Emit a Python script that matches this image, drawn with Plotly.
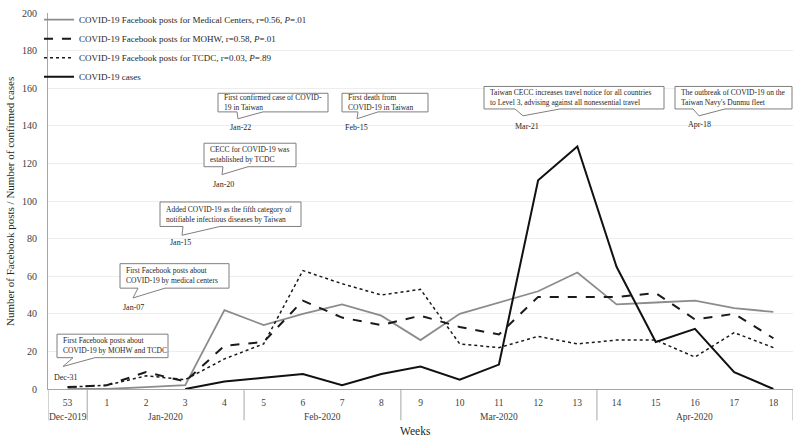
import plotly.graph_objects as go

# ---------------- data ----------------
weeks = ["53", "1", "2", "3", "4", "5", "6", "7", "8", "9", "10", "11", "12", "13", "14", "15", "16", "17", "18"]
months = ["Dec-2019", "Jan-2020", "Jan-2020", "Jan-2020", "Jan-2020",
          "Feb-2020", "Feb-2020", "Feb-2020", "Feb-2020",
          "Mar-2020", "Mar-2020", "Mar-2020", "Mar-2020", "Mar-2020",
          "Apr-2020", "Apr-2020", "Apr-2020", "Apr-2020", "Apr-2020"]
medical_centers = [0, 0, 1, 2, 42, 34, 40, 45, 39, 26, 40, 46, 52, 62, 45, 46, 47, 43, 41]
mohw = [1, 2, 9, 4, 23, 25, 47, 38, 34, 39, 33, 29, 49, 49, 49, 51, 37, 40, 27]
tcdc = [1, 2, 7, 5, 16, 24, 63, 56, 50, 53, 24, 22, 28, 24, 26, 26, 17, 30, 22]
cases = [None, None, None, 0, 4, 6, 8, 2, 8, 12, 5, 13, 111, 129, 65, 25, 32, 9, 0]

series_names = [
    "COVID-19 Facebook posts for Medical Centers, r=0.56, <i>P</i>=.01",
    "COVID-19 Facebook posts for MOHW, r=0.58, <i>P</i>=.01",
    "COVID-19 Facebook posts for TCDC, r=0.03, <i>P</i>=.89",
    "COVID-19 cases",
]

event_texts = [
    "First Facebook posts about<br>COVID-19 by MOHW and TCDC",
    "First Facebook posts about<br>COVID-19 by medical centers",
    "Added COVID-19 as the fifth category of<br>notifiable infectious diseases by Taiwan",
    "CECC for COVID-19 was<br>established by TCDC",
    "First confirmed case of COVID-<br>19 in Taiwan",
    "First death from<br>COVID-19 in Taiwan",
    "Taiwan CECC increases travel notice for all countries<br>to Level 3, advising against all nonessential travel",
    "The outbreak of COVID-19 on the<br>Taiwan Navy's Dunmu fleet",
]
event_dates = ["Dec-31", "Jan-07", "Jan-15", "Jan-20", "Jan-22", "Feb-15", "Mar-21", "Apr-18"]

# ---------------- layout geometry (pixels) ----------------
W, H = 800, 439
ML, MR, MT, MB = 48, 7, 5, 50
PW, PH = W - ML - MR, H - MT - MB


def px(x):
    return (x - ML) / PW


def py(y):
    return (H - MB - y) / PH


# callout geometry: box (x0, y0, x1, y1), tail base (bl, br), tip (tx, ty), date label (dx, dy)
callouts = [
    ((57, 333, 168, 357), (73, 95), (63, 366), (66, 377)),
    ((120, 261, 229, 286), (138, 165), (133, 296), (133, 306)),
    ((160, 198, 301, 223), (183, 220), (182, 232), (180, 239)),
    ((204, 138, 296, 162), (223, 248), (222, 170), (223, 180)),
    ((218, 87, 328, 106), (237, 263), (238, 113), (240, 122)),
    ((342, 87, 428, 106), (358, 378), (357, 113), (356, 122)),
    ((484, 80, 664, 103), (515, 560), (523, 110), (527, 121)),
    ((675, 80, 792, 103), (693, 725), (699, 110), (699, 119)),
]

FONT = "Liberation Serif"
TXT = "#262626"
AXC = "#a6a6a6"

fig = go.Figure()
fig.add_trace(go.Scatter(x=weeks, y=medical_centers, name=series_names[0], mode="lines",
                         line=dict(color="#8c8c8c", width=1.8)))
fig.add_trace(go.Scatter(x=weeks, y=mohw, name=series_names[1], mode="lines",
                         line=dict(color="#1a1a1a", width=2, dash="dash")))
fig.add_trace(go.Scatter(x=weeks, y=tcdc, name=series_names[2], mode="lines",
                         line=dict(color="#1a1a1a", width=1.5, dash="dot")))
fig.add_trace(go.Scatter(x=weeks, y=cases, name=series_names[3], mode="lines",
                         line=dict(color="#111111", width=2)))

shapes = []
annotations = []
for (box, base, tip, dpos), text, date in zip(callouts, event_texts, event_dates):
    x0, y0, x1, y1 = box
    bl, br = base
    tx, ty = tip
    path = (f"M {px(x0)},{py(y0)} L {px(x1)},{py(y0)} L {px(x1)},{py(y1)} "
            f"L {px(br)},{py(y1)} L {px(tx)},{py(ty)} L {px(bl)},{py(y1)} "
            f"L {px(x0)},{py(y1)} Z")
    shapes.append(dict(type="path", path=path, xref="paper", yref="paper",
                       line=dict(color="#7f7f7f", width=1), fillcolor="white", layer="above"))
    annotations.append(dict(text=text, xref="paper", yref="paper", x=px(x0 + 4), y=py((y0 + y1) / 2),
                            xanchor="left", yanchor="middle", align="left", showarrow=False,
                            font=dict(family=FONT, size=7.5, color=TXT)))
    annotations.append(dict(text=date, xref="paper", yref="paper", x=px(dpos[0]), y=py(dpos[1]),
                            xanchor="center", yanchor="middle", showarrow=False,
                            font=dict(family=FONT, size=8, color=TXT)))

# month groups below the week axis: dividers and centred labels
groups = []
for i, m in enumerate(months):
    if not groups or groups[-1][0] != m:
        groups.append([m, i, i])
    else:
        groups[-1][2] = i
for m, i0, i1 in groups:
    shapes.append(dict(type="line", xref="x", yref="paper", x0=i0 - 0.5, x1=i0 - 0.5,
                       y0=0, y1=py(421), line=dict(color=AXC, width=1)))
    annotations.append(dict(text=m, xref="x", yref="paper", x=(i0 + i1) / 2, y=py(418),
                            xanchor="center", yanchor="middle", showarrow=False,
                            font=dict(family=FONT, size=9.5, color="#404040")))
last = groups[-1][2]
shapes.append(dict(type="line", xref="x", yref="paper", x0=last + 0.5, x1=last + 0.5,
                   y0=0, y1=py(421), line=dict(color=AXC, width=1)))

annotations.append(dict(text="Number of Facebook posts / Number of confirmed cases", textangle=-90,
                        xref="paper", yref="paper", x=px(10), y=py(198), xanchor="center",
                        yanchor="middle", showarrow=False,
                        font=dict(family=FONT, size=11, color=TXT)))
annotations.append(dict(text="Weeks", xref="paper", yref="paper", x=px(415), y=py(432),
                        xanchor="center", yanchor="middle", showarrow=False,
                        font=dict(family=FONT, size=11.5, color=TXT)))

fig.update_layout(
    width=W, height=H,
    margin=dict(l=ML, r=MR, t=MT, b=MB),
    plot_bgcolor="white", paper_bgcolor="white",
    font=dict(family=FONT, color="#555555"),
    showlegend=True,
    legend=dict(x=px(39), y=py(-3), xanchor="left", yanchor="top", bgcolor="rgba(0,0,0,0)",
                font=dict(family=FONT, size=9, color=TXT), tracegroupgap=0, itemwidth=30),
    shapes=shapes,
    annotations=annotations,
)
fig.update_xaxes(type="category", showline=True, linecolor=AXC, linewidth=1,
                 showgrid=False, tickfont=dict(family=FONT, size=9.5, color="#404040"), ticks="",
                 ticklabelstandoff=5, range=[-0.5, 18.5])
fig.update_yaxes(range=[0, 200], dtick=20, showgrid=True, gridcolor="#ededed", gridwidth=1,
                 showline=True, linecolor=AXC, linewidth=1, zeroline=False,
                 tickfont=dict(family=FONT, size=10, color="#404040"), ticks="",
                 ticklabelstandoff=8)

fig.write_html("out.html", config={"displayModeBar": False},
               post_script="document.body.style.margin='0px';")
